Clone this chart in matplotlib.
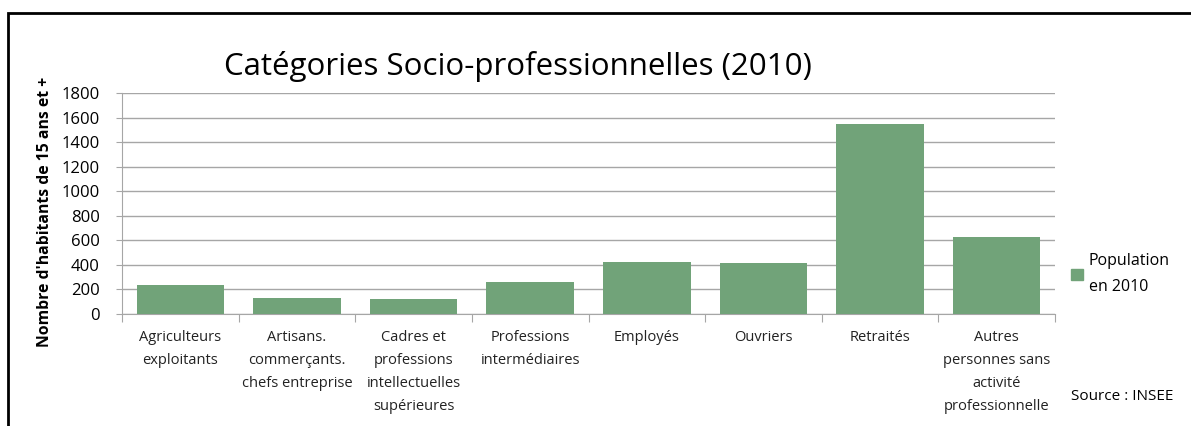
import matplotlib

matplotlib.use("Agg")
import matplotlib.pyplot as plt
from matplotlib.patches import Rectangle, Patch

categories = [
    "Agriculteurs\nexploitants",
    "Artisans.\ncommerçants.\nchefs entreprise",
    "Cadres et\nprofessions\nintellectuelles\nsupérieures",
    "Professions\nintermédiaires",
    "Employés",
    "Ouvriers",
    "Retraités",
    "Autres\npersonnes sans\nactivité\nprofessionnelle",
]
population_2010 = [234, 133, 120, 263, 421, 413, 1545, 625]
y_ticks = [0, 200, 400, 600, 800, 1000, 1200, 1400, 1600, 1800]

BAR = "#71a379"
GRID = "#a6a6a6"

plt.rcParams["font.family"] = ["Open Sans", "DejaVu Sans"]

W, H = 1191, 426
fig = plt.figure(figsize=(W / 100, H / 100), dpi=100)
ax = fig.add_axes([122 / W, 1 - 314 / H, (1055 - 122) / W, (314 - 93) / H])

x = range(len(categories))
ax.bar(x, population_2010, width=0.75, color=BAR, zorder=3)
ax.set_xlim(-0.5, len(categories) - 0.5)
ax.set_ylim(0, 1800)
ax.set_yticks(y_ticks)
ax.set_yticklabels([str(v) for v in y_ticks], fontsize=12)
ax.yaxis.grid(True, color=GRID, lw=1.0, zorder=0)
ax.tick_params(axis="y", length=4, color=GRID, pad=12)

# category boundaries carry the x ticks, labels sit at centres
ax.set_xticks([i - 0.5 for i in range(len(categories) + 1)])
ax.set_xticklabels([])
ax.tick_params(axis="x", length=6, color=GRID)
for i, lab in enumerate(categories):
    ax.text(i, -128, lab, ha="center", va="top", fontsize=10.5,
            linespacing=1.75, color="#222222")

for s in ["top", "right"]:
    ax.spines[s].set_visible(False)
for s in ["left", "bottom"]:
    ax.spines[s].set_color(GRID)

ax.set_ylabel("Nombre d'habitants de 15 ans et +", fontsize=11.3,
              fontweight="bold")
ax.yaxis.set_label_coords(-0.074, 0.46)

fig.text(518 / W, 1 - 66 / H, "Catégories Socio-professionnelles (2010)",
         ha="center", va="center", fontsize=22.5)

fig.legend(handles=[Patch(color=BAR, label="Population\nen 2010")],
           loc="center left", bbox_to_anchor=(1057 / W, 1 - 274 / H),
           frameon=False, fontsize=11.5, handlelength=0.7, handleheight=0.7,
           handletextpad=0.4, labelspacing=0)
plt.setp(fig.legends[0].get_texts(), linespacing=1.8)

fig.text(1071 / W, 1 - 396 / H, "Source : INSEE", ha="left", va="center",
         fontsize=11)

fig.patches.append(Rectangle((8 / W, -0.1), 1.2, 1 - 13 / H + 0.1,
                             transform=fig.transFigure, fill=False,
                             edgecolor="black", lw=2))

fig.savefig("out.png", dpi=100)
plt.close(fig)
